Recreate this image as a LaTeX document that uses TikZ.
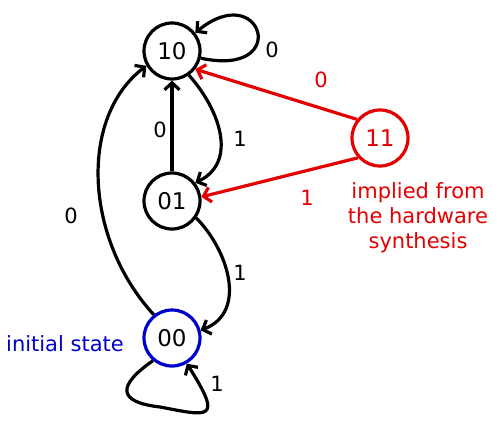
\documentclass[tikz,border=0pt]{standalone}
\usepackage{fontspec}
\setmainfont{DejaVu Sans}
\usetikzlibrary{arrows.meta}
\definecolor{hwred}{RGB}{228,0,0}
\definecolor{initblue}{RGB}{0,0,204}
\begin{document}
\begin{tikzpicture}[x=1pt,y=-1pt,
  state/.style={circle,draw,line width=3.2pt,minimum size=56pt,inner sep=0pt,font=\fontsize{23}{26}\selectfont},
  lbl/.style={font=\fontsize{21}{25}\selectfont,inner sep=0pt},
  edge/.style={line width=3.2pt,-{Straight Barb[length=7pt,width=15pt]}}]
\useasboundingbox (0,0) rectangle (498,425);
\node[state] (n10) at (172,51) {10};
\node[state] (n01) at (172,201) {01};
\node[state,draw=initblue] (n00) at (172,338) {00};
\node[state,draw=hwred,text=hwred] (n11) at (380,138) {11};
% black edges
\draw[edge] (n10.-14) .. controls (292,78) and (262,-22) .. (n10.38);
\draw[edge] (n01) -- (n10);
\draw[edge] (n10.-55) .. controls (220,110) and (238,162) .. (n01.38);
\draw[edge] (n01.-35) .. controls (228,250) and (248,312) .. (n00.15);
\draw[edge] (n00.128) .. controls (85,240) and (78,118) .. (n10.-150);
\draw[edge] (n00.-130) .. controls (118,385) and (116,402) .. (160,407) .. controls (208,416) and (224,422) .. (n00.-60);
% red edges
\draw[edge,hwred] (n11.141) -- (n10.-38);
\draw[edge,hwred] (n11.-138) -- (n01.8);
% labels
\node[lbl] (l1) at (272,50) {0};
\node[lbl] (l2) at (160,130) {0};
\node[lbl] (l3) at (240,139) {1};
\node[lbl,text=hwred] (l4) at (321,80) {0};
\node[lbl,text=hwred] (l5) at (307,198) {1};
\node[lbl] (l6) at (240,273) {1};
\node[lbl] (l7) at (71,216) {0};
\node[lbl] (l8) at (217,384) {1};
\node[lbl,text=initblue] (init) at (65,344) {initial state};
\node[lbl,text=hwred,align=center,font=\fontsize{21}{25}\selectfont] (impl) at (418,218) {implied from\\the hardware\\synthesis};
\end{tikzpicture}
\end{document}
